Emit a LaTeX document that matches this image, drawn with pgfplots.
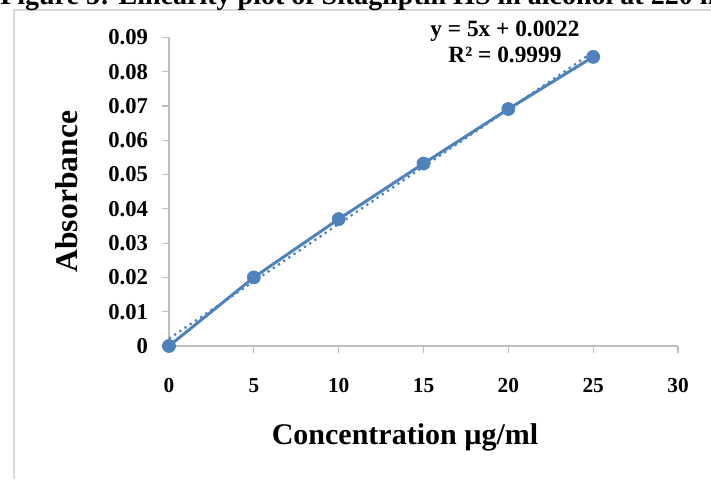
\documentclass[border=0pt]{standalone}
\usepackage{fontspec}
\setmainfont{Liberation Serif}
\usepackage{pgfplots}
\pgfplotsset{compat=1.18}
\definecolor{xlblue}{HTML}{4F81BD}
\definecolor{axgray}{HTML}{BFBFBF}
\definecolor{framegray}{HTML}{D9D9D9}
\begin{document}
\begin{tikzpicture}
\begin{axis}[
  at={(126.75pt,99.75pt)}, anchor=south west,
  scale only axis, width=381.75pt, height=231.5pt,
  xmin=0, xmax=30, ymin=0, ymax=0.09,
  scaled y ticks=false, scaled x ticks=false,
  axis x line*=bottom, axis y line*=left,
  axis line style={draw=axgray, line width=0.9pt, -},
  tick style={draw=axgray, line width=0.9pt},
  tick align=outside, major tick length=5.25pt,
  xtick={0,5,10,15,20,25,30},
  ytick={0,0.01,0.02,0.03,0.04,0.05,0.06,0.07,0.08,0.09},
  yticklabels={0,0.01,0.02,0.03,0.04,0.05,0.06,0.07,0.08,0.09},
  xticklabels={0,5,10,15,20,25,30},
  /pgf/number format/assume math mode=true,
  ticklabel style={text=black},
  xticklabel style={font=\bfseries\fontsize{16}{18}\selectfont, yshift=-15.5pt},
  yticklabel style={font=\bfseries\fontsize{17}{18}\selectfont, xshift=-7pt},
  xlabel={Concentration µg/ml},
  ylabel={Absorbance},
  xlabel style={font=\bfseries\fontsize{22.5}{25}\selectfont, at={(axis description cs:0.4637,-0.295)}, anchor=center},
  ylabel style={font=\bfseries\fontsize{23.7}{27}\selectfont, at={(axis description cs:-0.2004,0.5)}, anchor=center, rotate=0},
  clip=false,
]
\addplot[color=xlblue, line width=2.25pt, mark=*, mark size=4.9pt, mark options={fill=xlblue, draw=xlblue, line width=0.5pt}]
  coordinates {(0,0) (5,0.0200) (10,0.0370) (15,0.0532) (20,0.0691) (25,0.0843)};
\addplot[color=xlblue, line width=1.7pt, dash pattern=on 1.7pt off 3pt]
  coordinates {(0,0.00214) (25,0.0857)};
\node[align=center, font=\bfseries\fontsize{17.5}{20}\selectfont] at (axis cs:19.8,0.0887) {y = 5x + 0.0022\\R² = 0.9999};
\end{axis}
\draw[framegray, line width=1.5pt] (10.5pt,0) -- (10.5pt,351.75pt) -- (533.25pt,351.75pt);
\node[anchor=base west, inner sep=0pt, font=\bfseries\fontsize{21}{24}\selectfont] at (0pt,355.5pt) {Figure 5: Linearity plot of Sitagliptin HS in alcohol at 220 nm};
\pgfresetboundingbox
\useasboundingbox (0,0) rectangle (533.25pt,359.25pt);
\end{tikzpicture}
\end{document}
